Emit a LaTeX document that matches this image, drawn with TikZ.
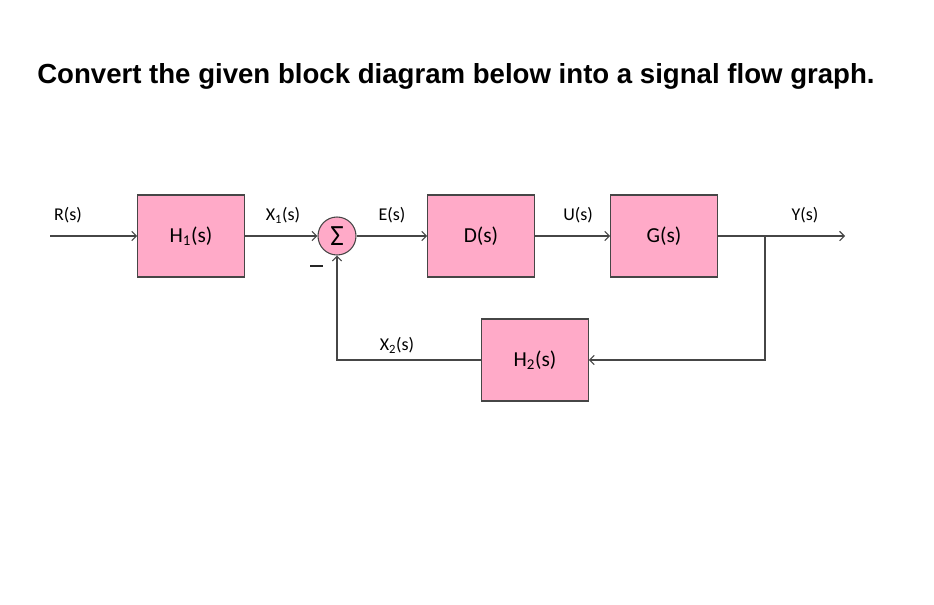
\documentclass[tikz,border=0pt]{standalone}
\usepackage{fontspec}
\setmainfont{Carlito}
\newfontfamily\titlefont{Liberation Sans}
\usetikzlibrary{arrows.meta}
\definecolor{boxpink}{RGB}{255,170,200}
\definecolor{linegrey}{RGB}{70,70,70}
\tikzset{
  block/.style = {draw=linegrey, fill=boxpink, line width=0.8pt,
                  minimum width=80pt, minimum height=61.5pt,
                  font=\fontsize{16}{18}\selectfont},
  sumnode/.style = {circle, draw=linegrey, fill=boxpink, line width=0.8pt,
                    minimum size=28.5pt, inner sep=0pt,
                    font=\fontsize{22}{22}\selectfont},
  sig/.style = {draw=linegrey, line width=0.8pt},
  lbl/.style = {font=\fontsize{13.5}{15}\selectfont},
  >={Straight Barb[length=3.5pt,width=7pt]}
}
\begin{document}
\begin{tikzpicture}[x=0.75pt, y=-0.75pt]
  \useasboundingbox (0,0) rectangle (934,604);
  \node[anchor=west, inner sep=0pt, font=\titlefont\bfseries\fontsize{20.7}{24}\selectfont]
    (title) at (37,76) {Convert the given block diagram below into a signal flow graph.};
  % blocks
  \node[block] (H1) at (191,236) {H\textsubscript{1}(s)};
  \node[sumnode] (S) at (337,236) {Σ};
  \node[block] (D) at (481,236) {D(s)};
  \node[block] (G) at (664,236) {G(s)};
  \node[block] (H2) at (535,360) {H\textsubscript{2}(s)};
  \coordinate (rin) at (50,236);
  \coordinate (yout) at (845,236);
  \coordinate (br) at (765,236);
  % signals
  \draw[sig,->] (rin) -- (H1);
  \draw[sig,->] (H1) -- (S);
  \draw[sig,->] (S) -- (D);
  \draw[sig,->] (D) -- (G);
  \draw[sig,->] (G) -- (yout);
  \draw[sig,->] (br) |- (H2);
  \draw[sig,->] (H2) -| (S);
  % labels
  \node[lbl] (lr) at (68,215) {R(s)};
  \node[lbl] (lx1) at (283,215) {X\textsubscript{1}(s)};
  \node[lbl] (le) at (392,215) {E(s)};
  \node[lbl] (lu) at (578,215) {U(s)};
  \node[lbl] (ly) at (805,215) {Y(s)};
  \node[lbl] (lx2) at (397,345) {X\textsubscript{2}(s)};
  \node[inner sep=0pt, text=black!85] (minus) at (316.5,266) {\rule{9.5pt}{2.2pt}};
\end{tikzpicture}
\end{document}
